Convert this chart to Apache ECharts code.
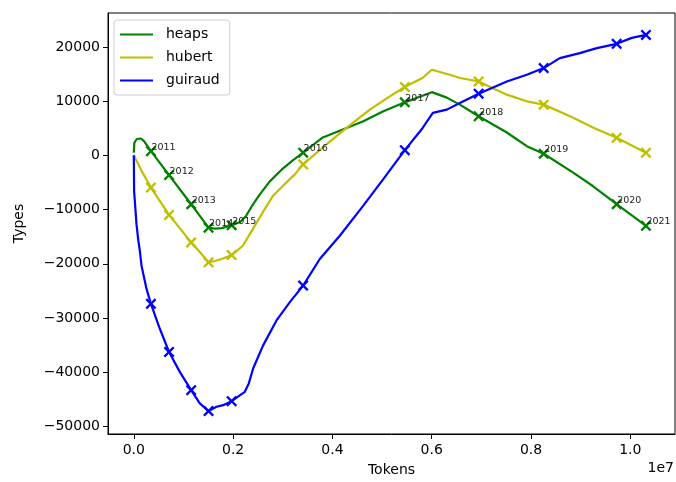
<!DOCTYPE html>
<html>
<head>
<meta charset="utf-8">
<script src="https://cdn.jsdelivr.net/npm/echarts@6/dist/echarts.min.js"></script>
<style>
  html, body { margin: 0; padding: 0; background: #fff; }
  #chart { width: 676px; height: 482px; }
</style>
</head>
<body>
<div id="chart"></div>
<script>
// year marks (cumulative tokens per year), shared by all three curves
const yearLabels = ['2011', '2012', '2013', '2014', '2015', '2016', '2017', '2018', '2019', '2020', '2021'];
const yearTokens = [345000, 710000, 1155000, 1505000, 1970000, 3410000, 5458000, 6945000, 8255000, 9725000, 10315000];
const heapsAtYear = [770, -3640, -9020, -13340, -12880, 480, 9770, 7200, 290, -9020, -13010];
const hubertAtYear = [-5950, -10990, -16060, -19730, -18390, -1670, 12600, 13630, 9350, 3230, 480];
const guiraudAtYear = [-27390, -36270, -43320, -47180, -45340, -24030, 955, 11370, 16090, 20560, 22210];

// points of the curves between the year marks
const heapsTokens = [0, 10000, 60000, 141000, 201000, 1329000, 1631000, 1772000, 2135000, 2256000, 2377000, 2538000, 2739000, 2981000, 3202000, 3807000, 4209000, 4612000, 5015000, 5760000, 6002000, 6304000, 6566000, 7513000, 7915000, 8842000, 9245000];
const heapsTypes = [500, 2300, 3010, 3100, 2650, -11170, -13520, -13430, -12330, -11230, -9390, -7190, -4800, -2600, -940, 3290, 4760, 6230, 8070, 10820, 11650, 10640, 9350, 4210, 1690, -3140, -5660];

const hubertTokens = [0, 161000, 1329000, 1631000, 1772000, 2095000, 2195000, 2397000, 2598000, 2800000, 3001000, 3243000, 3807000, 4290000, 4753000, 5156000, 5820000, 6002000, 6364000, 6566000, 7513000, 7915000, 8842000, 9245000];
const hubertTypes = [0, -2960, -17840, -19490, -19120, -17470, -16680, -13610, -10490, -7500, -5660, -3510, 1450, 5120, 8430, 10880, 14310, 15780, 14870, 14260, 11190, 9960, 6960, 5120];

const guiraudTokens = [0, 6000, 54000, 87000, 121000, 155000, 256000, 524000, 926000, 1329000, 1666000, 1799000, 2236000, 2316000, 2403000, 2604000, 2874000, 3142000, 3746000, 4149000, 4618000, 5021000, 5794000, 6022000, 6304000, 6566000, 7513000, 7915000, 8580000, 8983000, 9326000, 10030000];
const guiraudTypes = [0, -6580, -12700, -15450, -17600, -20360, -24640, -31990, -39940, -45760, -46370, -46080, -43620, -42070, -39330, -35050, -30460, -27080, -19120, -14840, -9330, -4430, 4760, 7830, 8430, 9660, 13630, 14860, 17930, 18850, 19770, 21660];

const xTicks = [0, 2000000, 4000000, 6000000, 8000000, 10000000];
const yTicks = [-50000, -40000, -30000, -20000, -10000, 0, 10000, 20000];

const FONT = 'DejaVu Sans';
const crossMark = 'path://M0,1.5L1.5,0L5,3.5L8.5,0L10,1.5L6.5,5L10,8.5L8.5,10L5,6.5L1.5,10L0,8.5L3.5,5Z';

// join the year marks and the in-between points into one sorted curve
function curve(tokens, types, atYear) {
    const pts = tokens.map((t, i) => [t, types[i]]);
    yearTokens.forEach((t, i) => pts.push([t, atYear[i]]));
    return pts.sort((a, b) => a[0] - b[0]);
}

function lineSeries(name, color, tokens, types, atYear) {
    return {
        name: name,
        type: 'line',
        data: curve(tokens, types, atYear),
        showSymbol: false,
        lineStyle: { color: color, width: 2.2 },
        itemStyle: { color: color },
        animation: false,
        z: 2
    };
}

function markSeries(name, color, atYear, withLabels) {
    return {
        name: name,
        type: 'scatter',
        data: yearTokens.map((t, i) => [t, atYear[i]]),
        symbol: crossMark,
        symbolSize: 11,
        itemStyle: { color: color, opacity: 1 },
        label: {
            show: withLabels,
            position: 'right',
            distance: -5,
            offset: [0, -4],
            formatter: (p) => yearLabels[p.dataIndex],
            fontFamily: FONT,
            fontSize: 9.5,
            color: '#222'
        },
        animation: false,
        z: 3
    };
}

const chart = echarts.init(document.getElementById('chart'));
const option = {
    backgroundColor: '#fff',
    grid: {
        left: 108, right: 1, top: 13, bottom: 46,
        show: true, borderColor: '#000', borderWidth: 1
    },
    legend: {
        orient: 'vertical',
        left: 114, top: 20,
        data: [
            { name: 'heaps', icon: 'rect' },
            { name: 'hubert', icon: 'rect' },
            { name: 'guiraud', icon: 'rect' }
        ],
        itemWidth: 33, itemHeight: 2.2, itemGap: 8,
        padding: [7, 10, 7, 6],
        backgroundColor: '#fff',
        borderColor: '#ccc', borderWidth: 1, borderRadius: 3,
        textStyle: { fontFamily: FONT, fontSize: 14, color: '#000', padding: [0, 0, 0, 8], lineHeight: 15 },
        selectedMode: false
    },
    xAxis: {
        type: 'value',
        min: -520000, max: 10900000,
        name: 'Tokens', nameLocation: 'middle', nameGap: 29,
        nameTextStyle: { fontFamily: FONT, fontSize: 14, color: '#000' },
        axisLine: { show: true, onZero: false, lineStyle: { color: '#000', width: 1 } },
        axisTick: { show: true, length: 5, customValues: xTicks, lineStyle: { color: '#000' } },
        axisLabel: {
            customValues: xTicks, margin: 9,
            fontFamily: FONT, fontSize: 14, color: '#000',
            formatter: (v) => (v / 1e7).toFixed(1)
        },
        splitLine: { show: false }
    },
    yAxis: {
        type: 'value',
        min: -51400, max: 26250,
        name: 'Types', nameLocation: 'middle', nameGap: 82, nameRotate: 90,
        nameTextStyle: { fontFamily: FONT, fontSize: 14, color: '#000' },
        axisLine: { show: true, onZero: false, lineStyle: { color: '#000', width: 1 } },
        axisTick: { show: true, length: 5, customValues: yTicks, lineStyle: { color: '#000' } },
        axisLabel: {
            customValues: yTicks, margin: 8,
            fontFamily: FONT, fontSize: 14, color: '#000',
            formatter: (v) => (v < 0 ? '\u2212' + Math.abs(v) : String(v))
        },
        splitLine: { show: false }
    },
    graphic: [
        {
            type: 'text', right: 2, top: 461,
            style: { text: '1e7', font: '14px "DejaVu Sans"', fill: '#000' }
        }
    ],
    series: [
        lineSeries('heaps', '#008000', heapsTokens, heapsTypes, heapsAtYear),
        lineSeries('hubert', '#bfbf00', hubertTokens, hubertTypes, hubertAtYear),
        lineSeries('guiraud', '#0000ff', guiraudTokens, guiraudTypes, guiraudAtYear),
        markSeries('heaps marks', '#008000', heapsAtYear, true),
        markSeries('hubert marks', '#bfbf00', hubertAtYear, false),
        markSeries('guiraud marks', '#0000ff', guiraudAtYear, false)
    ]
};
chart.setOption(option);
</script>
</body>
</html>
